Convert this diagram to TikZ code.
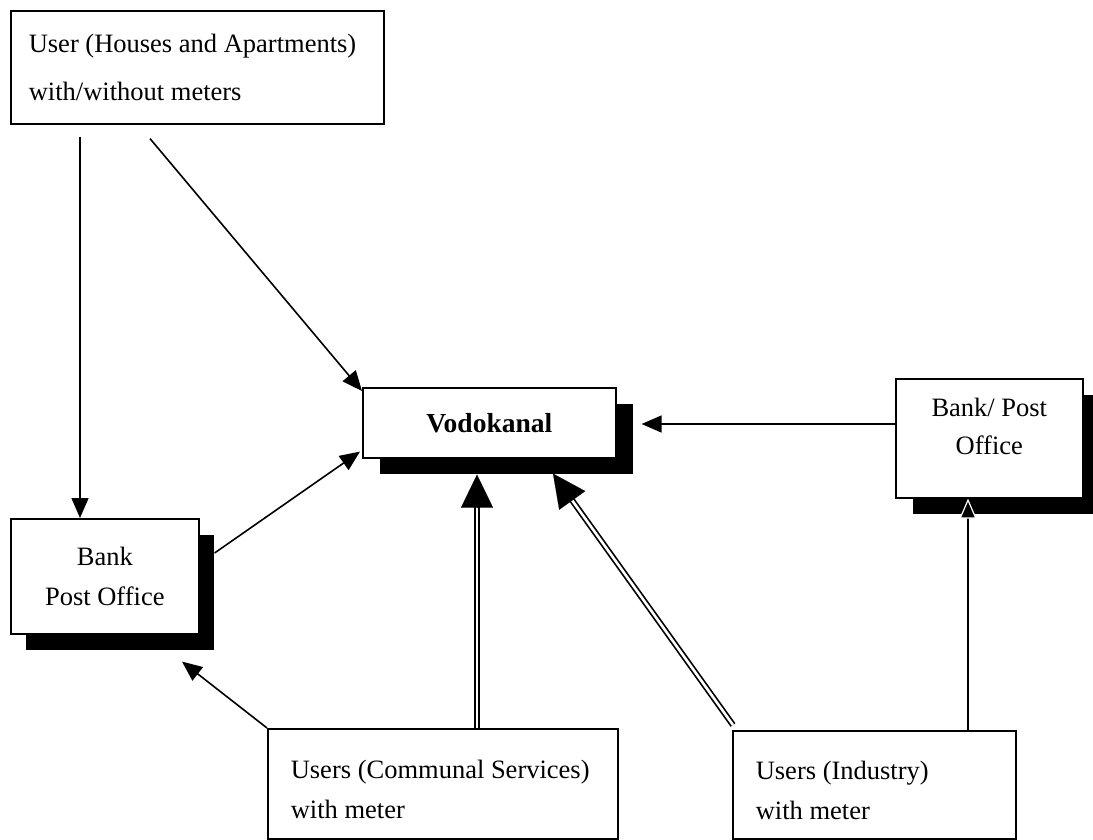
\documentclass[tikz,border=0pt]{standalone}
\usepackage{fontspec}
\setmainfont{Liberation Serif}
\usetikzlibrary{arrows.meta,calc,shadows}
\begin{document}
\begin{tikzpicture}[x=1pt,y=-1pt,
  box/.style={draw, line width=1.6pt, fill=white, inner sep=0pt, anchor=north west,
    font=\fontsize{26.5}{40}\selectfont},
  shad/.style={drop shadow={shadow xshift=#1, shadow yshift=-16pt, fill=black, opacity=1}},
  arr/.style={draw, line width=1.6pt, -{Triangle[length=20pt,width=17pt]}},
  arrw/.style={draw, line width=1.6pt, -{Triangle[length=20pt,width=17pt,color=white,fill=black,line width=1.2pt]}},
  dbl/.style={draw, line width=1.7pt, double=white, double distance=2.6pt},
  bighead/.style={draw, line width=0.1pt, -{Triangle[length=33pt,width=32pt]}}
]
\useasboundingbox (0,0) rectangle (1093,840);

\node[box, minimum width=373pt, minimum height=113pt, text width=337pt, align=flush left,
  font=\fontsize{26.5}{48}\selectfont] (top) at (10,10)
  {User (Houses and Apartments)\\with/without meters};

\node[box, shad=15pt, minimum width=188pt, minimum height=115pt, align=center] (bankL) at (10,518)
  {Bank\\Post Office};

\node[box, shad=17pt, minimum width=253pt, minimum height=70pt, font=\fontsize{27.5}{40}\selectfont\bfseries] (vodo) at (362,387)
  {Vodokanal};

\node[box, shad=17pt, minimum width=187pt, minimum height=119pt, align=center,
  font=\fontsize{26.5}{38}\selectfont, text depth=24pt] (bankR) at (895,378)
  {Bank/ Post\\Office};

\node[box, minimum width=350pt, minimum height=110pt, text width=304pt, align=flush left,
  text height=30pt] (usersC) at (267,728)
  {Users (Communal Services)\\with meter};

\node[box, minimum width=283pt, minimum height=108pt, text width=237pt, align=flush left,
  text height=30pt] (usersI) at (732,730)
  {Users (Industry)\\with meter};

% single arrows
\draw[arr] ($(top.south west)+(70,12)$) -- ($(bankL.north west)+(70,0)$);
\draw[arr] ($(top.south west)+(140,14)$) -- ($(vodo.north west)+(0,4)$);
\draw[arr] ($(bankL.north east)+(15,35)$) -- ($(vodo.south west)+(-2,-7)$);
\draw[arr] ($(bankR.north west)+(0,46)$) -- ($(vodo.north east)+(25,37)$);
\draw[arr] (usersC.north west) -- ($(bankL.south west)+(172,27)$);
\draw[arrw] ($(usersI.north west)+(236,0)$) -- ($(bankR.south west)+(73,0)$);

% double arrows
\coordinate (h1) at ($(vodo.south west)+(115,16)$);
\coordinate (s1) at ($(usersC.north west)+(210,0)$);
\draw[dbl] (s1) -- ($(h1)!30pt!(s1)$);
\draw[bighead] ($(h1)!32pt!(s1)$) -- (h1);

\coordinate (h2) at ($(vodo.south west)+(191,15)$);
\coordinate (s2) at ($(usersI.north west)+(1,-5)$);
\draw[dbl] (s2) -- ($(h2)!30pt!(s2)$);
\draw[bighead] ($(h2)!32pt!(s2)$) -- (h2);
\end{tikzpicture}
\end{document}
